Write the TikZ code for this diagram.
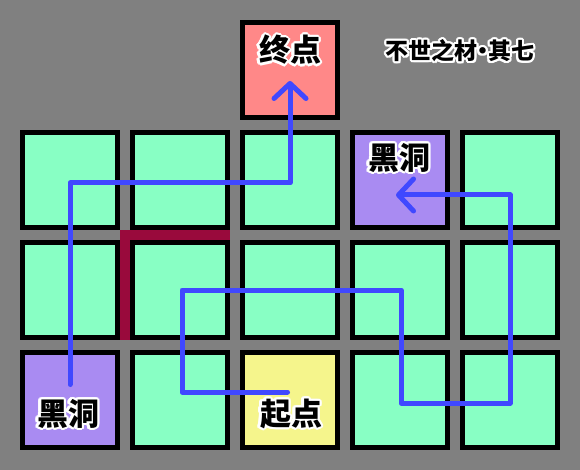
\documentclass[tikz,border=0pt]{standalone}
\usepackage{fontspec}
\newfontfamily\cjk{Noto Sans CJK SC}
\usepackage{contour}
\contourlength{2.2pt}
\usetikzlibrary{arrows.meta}
\definecolor{bgc}{HTML}{808080}
\definecolor{greenc}{HTML}{88FFC4}
\definecolor{pinkc}{HTML}{FF8888}
\definecolor{purplec}{HTML}{A98BF2}
\definecolor{yellowc}{HTML}{F5F58C}
\definecolor{bluec}{HTML}{4048FF}
\definecolor{wallc}{HTML}{990A3C}
\begin{document}
\begin{tikzpicture}[x=1pt,y=-1pt,
  cell/.style={draw=black,line width=5pt,minimum size=95pt,inner sep=0pt,fill=greenc},
  lbl/.style={font=\cjk\bfseries\fontsize{31}{31}\selectfont,inner sep=0pt},
  ttl/.style={font=\cjk\bfseries\fontsize{23}{23}\selectfont,inner sep=0pt},
  route/.style={draw=bluec,line width=5pt,line cap=round,line join=round},
  tipend/.style={-{Straight Barb[length=15pt,width=32pt,round]}}]
\fill[bgc] (0,0) rectangle (580,470);
\useasboundingbox (0,0) rectangle (580,470);
% wall
\fill[wallc] (120,230) rectangle (230,240);
\fill[wallc] (120,230) rectangle (130,340);
% cells
\node[cell,fill=pinkc] (goal) at (290,70) {};
\node[cell] (c11) at (70,180) {};
\node[cell] (c12) at (180,180) {};
\node[cell] (c13) at (290,180) {};
\node[cell,fill=purplec] (c14) at (400,180) {};
\node[cell] (c15) at (510,180) {};
\node[cell] (c21) at (70,290) {};
\node[cell] (c22) at (180,290) {};
\node[cell] (c23) at (290,290) {};
\node[cell] (c24) at (400,290) {};
\node[cell] (c25) at (510,290) {};
\node[cell,fill=purplec] (c31) at (70,400) {};
\node[cell] (c32) at (180,400) {};
\node[cell,fill=yellowc] (c33) at (290,400) {};
\node[cell] (c34) at (400,400) {};
\node[cell] (c35) at (510,400) {};
% route 1
\coordinate (a1) at (70,384.5);
\coordinate (a2) at (70,183);
\coordinate (a3) at (290,183);
\coordinate (a4) at (290,81);
\draw[route,tipend] (a1) -- (a2) -- (a3) -- (a4);
% route 2
\coordinate (b1) at (287.5,392);
\coordinate (b2) at (182,392);
\coordinate (b3) at (182,290);
\coordinate (b4) at (401,290);
\coordinate (b5) at (401,403);
\coordinate (b6) at (510,403);
\coordinate (b7) at (510,195);
\coordinate (b8) at (396,195);
\draw[route,tipend] (b1) -- (b2) -- (b3) -- (b4) -- (b5) -- (b6) -- (b7) -- (b8);
% labels
\node[lbl] (goaltxt) at (290,51) {\contour{white}{终点}};
\node[lbl] (bh1txt) at (399,159) {\contour{white}{黑洞}};
\node[lbl] (bh2txt) at (68,415) {\contour{white}{黑洞}};
\node[lbl] (starttxt) at (291,415) {\contour{white}{起点}};
\node[ttl] (title) at (460,52) {\contour{white}{不世之材\kern-0.27em·\kern-0.27em其七}};
\end{tikzpicture}
\end{document}
